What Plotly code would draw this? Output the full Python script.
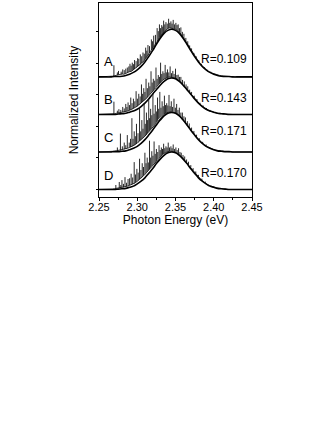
import plotly.graph_objects as go

# photon energy sampling of the measured spectra (eV)
energy = [2.2500, 2.2525, 2.2550, 2.2575, 2.2600, 2.2625, 2.2650, 2.2675, 2.2700, 2.2725,
          2.2750, 2.2775, 2.2800, 2.2825, 2.2850, 2.2875, 2.2900, 2.2925, 2.2950, 2.2975,
          2.3000, 2.3025, 2.3050, 2.3075, 2.3100, 2.3125, 2.3150, 2.3175, 2.3200, 2.3225,
          2.3250, 2.3275, 2.3300, 2.3325, 2.3350, 2.3375, 2.3400, 2.3425, 2.3450, 2.3475,
          2.3500, 2.3525, 2.3550, 2.3575, 2.3600, 2.3625, 2.3650, 2.3675, 2.3700, 2.3725,
          2.3750, 2.3775, 2.3800, 2.3825, 2.3850, 2.3875, 2.3900, 2.3925, 2.3950, 2.3975,
          2.4000, 2.4025, 2.4050, 2.4075, 2.4100, 2.4125, 2.4150, 2.4175, 2.4200, 2.4225,
          2.4250, 2.4275, 2.4300, 2.4325, 2.4350, 2.4375, 2.4400, 2.4425, 2.4450, 2.4475,
          2.4500]

# measured spectra (background trace)
spec_A = [0.00, 0.00, 0.01, 0.00, 0.01, 0.00, 0.01, 0.02, 0.03, 0.04,
          0.06, 0.05, 0.08, 0.07, 0.10, 0.11, 0.14, 0.15, 0.19, 0.22,
          0.26, 0.30, 0.35, 0.40, 0.46, 0.53, 0.60, 0.68, 0.76, 0.84,
          0.92, 1.00, 1.07, 1.14, 1.20, 1.25, 1.29, 1.31, 1.30, 1.30,
          1.27, 1.24, 1.19, 1.13, 1.05, 0.97, 0.89, 0.80, 0.71, 0.63,
          0.55, 0.47, 0.40, 0.34, 0.28, 0.23, 0.19, 0.15, 0.12, 0.10,
          0.08, 0.06, 0.05, 0.04, 0.03, 0.02, 0.02, 0.01, 0.01, 0.01,
          0.00, 0.01, 0.00, 0.00, 0.00, 0.00, 0.00, 0.00, 0.00, 0.00,
          0.00]
spec_B = [0.00, 0.00, 0.01, 0.00, 0.01, 0.00, 0.01, 0.01, 0.02, 0.03,
          0.04, 0.04, 0.06, 0.06, 0.08, 0.09, 0.11, 0.13, 0.16, 0.19,
          0.22, 0.26, 0.30, 0.34, 0.39, 0.44, 0.50, 0.56, 0.62, 0.68,
          0.74, 0.80, 0.85, 0.90, 0.94, 0.97, 0.99, 1.00, 0.99, 0.98,
          0.96, 0.93, 0.89, 0.84, 0.79, 0.73, 0.67, 0.61, 0.54, 0.48,
          0.42, 0.36, 0.31, 0.26, 0.22, 0.18, 0.15, 0.12, 0.09, 0.07,
          0.06, 0.04, 0.03, 0.03, 0.02, 0.01, 0.01, 0.01, 0.00, 0.00,
          0.00, 0.00, 0.00, 0.00, 0.00, 0.00, 0.00, 0.00, 0.00, 0.00,
          0.00]
spec_C = [0.00, 0.00, 0.01, 0.00, 0.01, 0.00, 0.01, 0.01, 0.02, 0.03,
          0.04, 0.04, 0.06, 0.07, 0.08, 0.10, 0.12, 0.14, 0.17, 0.20,
          0.24, 0.28, 0.32, 0.37, 0.42, 0.48, 0.54, 0.60, 0.67, 0.73,
          0.79, 0.85, 0.91, 0.96, 1.00, 1.04, 1.06, 1.07, 1.07, 1.06,
          1.04, 1.01, 0.96, 0.91, 0.85, 0.79, 0.72, 0.65, 0.58, 0.51,
          0.45, 0.39, 0.33, 0.28, 0.23, 0.19, 0.16, 0.13, 0.10, 0.08,
          0.06, 0.05, 0.04, 0.03, 0.02, 0.01, 0.01, 0.01, 0.00, 0.00,
          0.00, 0.00, 0.00, 0.00, 0.00, 0.00, 0.00, 0.00, 0.00, 0.00,
          0.00]
spec_D = [0.00, 0.00, 0.01, 0.00, 0.01, 0.00, 0.01, 0.01, 0.02, 0.03,
          0.04, 0.04, 0.05, 0.06, 0.08, 0.09, 0.11, 0.13, 0.15, 0.18,
          0.22, 0.26, 0.30, 0.35, 0.40, 0.46, 0.52, 0.58, 0.64, 0.70,
          0.76, 0.82, 0.87, 0.92, 0.96, 0.99, 1.01, 1.02, 1.02, 1.01,
          0.99, 0.96, 0.92, 0.87, 0.82, 0.76, 0.69, 0.63, 0.56, 0.50,
          0.44, 0.38, 0.32, 0.27, 0.23, 0.19, 0.15, 0.12, 0.10, 0.08,
          0.06, 0.05, 0.04, 0.03, 0.02, 0.01, 0.01, 0.01, 0.00, 0.00,
          0.00, 0.00, 0.00, 0.00, 0.00, 0.00, 0.00, 0.00, 0.00, 0.00,
          0.00]

# sharp spikes of the measured spectra: energy, foot, top
spike_A_energy = [2.2695, 2.2740, 2.2755, 2.2790, 2.2810, 2.2830, 2.2850, 2.2870, 2.2890, 2.2905,
                  2.2920, 2.2935, 2.2950, 2.2965, 2.2985, 2.3005, 2.3020, 2.3040, 2.3058, 2.3075,
                  2.3092, 2.3110, 2.3125, 2.3140, 2.3160, 2.3185, 2.3200, 2.3215, 2.3238, 2.3260,
                  2.3275, 2.3290, 2.3305, 2.3320, 2.3333, 2.3345, 2.3360, 2.3375, 2.3392, 2.3410,
                  2.3425, 2.3440, 2.3455, 2.3470, 2.3488, 2.3505, 2.3520, 2.3535, 2.3552, 2.3570,
                  2.3590, 2.3610, 2.3635, 2.3660, 2.3685, 2.3710, 2.3740, 2.3770, 2.3805, 2.3840,
                  2.3880, 2.3920, 2.3960]
spike_A_low = [0.02, 0.05, 0.06, 0.06, 0.08, 0.08, 0.10, 0.11, 0.13, 0.14,
               0.15, 0.17, 0.19, 0.21, 0.24, 0.27, 0.29, 0.33, 0.37, 0.40,
               0.44, 0.49, 0.53, 0.57, 0.64, 0.72, 0.76, 0.81, 0.88, 0.96,
               1.00, 1.05, 1.08, 1.12, 1.16, 1.19, 1.22, 1.25, 1.28, 1.30,
               1.31, 1.30, 1.30, 1.30, 1.28, 1.27, 1.25, 1.22, 1.19, 1.14,
               1.08, 1.01, 0.93, 0.85, 0.76, 0.67, 0.58, 0.49, 0.39, 0.30,
               0.22, 0.16, 0.11]
spike_A_high = [0.31, 0.12, 0.16, 0.14, 0.20, 0.18, 0.22, 0.25, 0.28, 0.35,
                0.30, 0.38, 0.34, 0.45, 0.42, 0.50, 0.48, 0.60, 0.55, 0.65,
                0.62, 0.78, 0.70, 0.85, 0.82, 1.00, 0.95, 1.10, 1.12, 1.30,
                1.22, 1.40, 1.30, 1.38, 1.34, 1.50, 1.40, 1.46, 1.42, 1.55,
                1.44, 1.48, 1.42, 1.52, 1.40, 1.44, 1.38, 1.40, 1.30, 1.32,
                1.20, 1.15, 1.04, 0.95, 0.84, 0.76, 0.64, 0.55, 0.44, 0.35,
                0.26, 0.19, 0.14]

spike_B_energy = [2.2695, 2.2740, 2.2760, 2.2785, 2.2810, 2.2830, 2.2850, 2.2865, 2.2880, 2.2898,
                  2.2915, 2.2932, 2.2950, 2.2968, 2.2985, 2.3002, 2.3020, 2.3038, 2.3055, 2.3070,
                  2.3085, 2.3100, 2.3115, 2.3132, 2.3150, 2.3165, 2.3180, 2.3195, 2.3210, 2.3228,
                  2.3245, 2.3260, 2.3275, 2.3290, 2.3305, 2.3320, 2.3335, 2.3350, 2.3365, 2.3380,
                  2.3395, 2.3412, 2.3430, 2.3448, 2.3465, 2.3482, 2.3500, 2.3518, 2.3535, 2.3552,
                  2.3570, 2.3592, 2.3615, 2.3638, 2.3660, 2.3685, 2.3710, 2.3745, 2.3780, 2.3820,
                  2.3860, 2.3905, 2.3950]
spike_B_low = [0.01, 0.03, 0.04, 0.04, 0.06, 0.06, 0.08, 0.09, 0.09, 0.11,
               0.12, 0.14, 0.16, 0.18, 0.20, 0.22, 0.25, 0.28, 0.31, 0.33,
               0.36, 0.39, 0.42, 0.46, 0.50, 0.54, 0.58, 0.61, 0.64, 0.68,
               0.73, 0.76, 0.80, 0.83, 0.86, 0.89, 0.92, 0.94, 0.96, 0.97,
               0.98, 0.99, 1.00, 0.99, 0.98, 0.97, 0.96, 0.94, 0.92, 0.89,
               0.85, 0.80, 0.75, 0.70, 0.65, 0.58, 0.52, 0.44, 0.35, 0.27,
               0.20, 0.14, 0.09]
spike_B_high = [0.34, 0.10, 0.14, 0.12, 0.20, 0.16, 0.28, 0.20, 0.32, 0.25,
                0.45, 0.30, 0.42, 0.35, 0.62, 0.42, 0.55, 0.48, 0.80, 0.55,
                0.70, 0.60, 0.95, 0.70, 0.85, 0.75, 1.15, 0.85, 0.95, 0.90,
                1.25, 0.95, 1.05, 1.00, 1.38, 1.08, 1.15, 1.10, 1.32, 1.12,
                1.20, 1.12, 1.28, 1.10, 1.16, 1.08, 1.22, 1.05, 1.06, 1.00,
                1.00, 0.92, 0.88, 0.80, 0.75, 0.66, 0.60, 0.50, 0.41, 0.31,
                0.24, 0.17, 0.12]

spike_C_energy = [2.2740, 2.2780, 2.2805, 2.2830, 2.2850, 2.2870, 2.2895, 2.2912, 2.2930, 2.2945,
                  2.2960, 2.2975, 2.2990, 2.3010, 2.3030, 2.3045, 2.3060, 2.3075, 2.3090, 2.3105,
                  2.3120, 2.3135, 2.3150, 2.3162, 2.3175, 2.3190, 2.3205, 2.3220, 2.3235, 2.3250,
                  2.3265, 2.3280, 2.3295, 2.3310, 2.3325, 2.3340, 2.3355, 2.3370, 2.3385, 2.3400,
                  2.3415, 2.3430, 2.3445, 2.3462, 2.3480, 2.3498, 2.3515, 2.3532, 2.3550, 2.3570,
                  2.3590, 2.3610, 2.3630, 2.3655, 2.3680, 2.3710, 2.3740, 2.3775, 2.3810, 2.3855,
                  2.3900]
spike_C_low = [0.03, 0.04, 0.06, 0.07, 0.08, 0.10, 0.12, 0.13, 0.14, 0.16,
               0.18, 0.20, 0.22, 0.25, 0.29, 0.31, 0.34, 0.37, 0.40, 0.43,
               0.46, 0.50, 0.54, 0.57, 0.60, 0.64, 0.68, 0.71, 0.75, 0.79,
               0.83, 0.87, 0.90, 0.93, 0.96, 0.99, 1.01, 1.03, 1.05, 1.06,
               1.07, 1.07, 1.07, 1.07, 1.06, 1.04, 1.02, 0.99, 0.96, 0.92,
               0.87, 0.83, 0.78, 0.71, 0.64, 0.56, 0.48, 0.39, 0.31, 0.22,
               0.16]
spike_C_high = [0.12, 0.49, 0.15, 0.25, 0.18, 0.45, 0.25, 0.35, 0.90, 0.35,
                0.55, 0.42, 0.75, 0.50, 1.20, 0.55, 0.85, 0.62, 1.30, 0.75,
                1.05, 0.85, 1.42, 0.90, 1.15, 0.98, 1.55, 1.02, 1.25, 1.08,
                1.45, 1.15, 1.60, 1.18, 1.35, 1.22, 1.50, 1.25, 1.30, 1.24,
                1.52, 1.22, 1.35, 1.20, 1.42, 1.18, 1.28, 1.12, 1.18, 1.05,
                1.05, 0.95, 0.92, 0.82, 0.76, 0.65, 0.56, 0.46, 0.37, 0.27,
                0.20]

spike_D_energy = [2.2720, 2.2765, 2.2785, 2.2800, 2.2820, 2.2840, 2.2860, 2.2880, 2.2900, 2.2920,
                  2.2940, 2.2960, 2.2978, 2.2995, 2.3012, 2.3030, 2.3048, 2.3065, 2.3082, 2.3100,
                  2.3115, 2.3130, 2.3145, 2.3160, 2.3175, 2.3190, 2.3205, 2.3220, 2.3235, 2.3250,
                  2.3268, 2.3285, 2.3300, 2.3315, 2.3330, 2.3345, 2.3360, 2.3375, 2.3390, 2.3405,
                  2.3422, 2.3440, 2.3455, 2.3470, 2.3488, 2.3505, 2.3522, 2.3540, 2.3558, 2.3575,
                  2.3598, 2.3620, 2.3645, 2.3670, 2.3700, 2.3730, 2.3765, 2.3800, 2.3845, 2.3890]
spike_D_low = [0.02, 0.04, 0.04, 0.05, 0.06, 0.07, 0.08, 0.09, 0.11, 0.12,
               0.14, 0.16, 0.18, 0.21, 0.24, 0.27, 0.30, 0.33, 0.37, 0.40,
               0.44, 0.47, 0.51, 0.54, 0.58, 0.62, 0.65, 0.69, 0.72, 0.76,
               0.80, 0.84, 0.87, 0.90, 0.93, 0.95, 0.97, 0.99, 1.00, 1.01,
               1.02, 1.02, 1.02, 1.01, 1.00, 0.99, 0.97, 0.94, 0.91, 0.87,
               0.82, 0.78, 0.72, 0.66, 0.58, 0.51, 0.42, 0.34, 0.25, 0.18]
spike_D_high = [0.12, 0.20, 0.12, 0.25, 0.15, 0.33, 0.18, 0.28, 0.30, 0.42,
                0.32, 0.73, 0.40, 0.55, 0.45, 0.82, 0.52, 0.70, 0.60, 0.98,
                0.70, 0.85, 0.72, 1.30, 0.85, 1.02, 0.90, 1.28, 0.95, 1.08,
                1.00, 1.18, 1.05, 1.12, 1.08, 1.22, 1.10, 1.15, 1.12, 1.25,
                1.12, 1.15, 1.10, 1.20, 1.08, 1.12, 1.05, 1.10, 1.00, 0.98,
                0.92, 0.88, 0.80, 0.74, 0.65, 0.57, 0.48, 0.39, 0.29, 0.21]

# fitted curves, sampled every 0.005 eV
fit_energy = [2.250, 2.255, 2.260, 2.265, 2.270, 2.275, 2.280, 2.285, 2.290, 2.295,
              2.300, 2.305, 2.310, 2.315, 2.320, 2.325, 2.330, 2.335, 2.340, 2.345,
              2.350, 2.355, 2.360, 2.365, 2.370, 2.375, 2.380, 2.385, 2.390, 2.395,
              2.400, 2.405, 2.410, 2.415, 2.420, 2.425, 2.430, 2.435, 2.440, 2.445,
              2.450]
fit_A = [0.00, 0.00, 0.00, 0.00, 0.01, 0.01, 0.02, 0.04, 0.07, 0.12,
         0.19, 0.28, 0.40, 0.54, 0.70, 0.87, 1.03, 1.16, 1.24, 1.27,
         1.24, 1.16, 1.03, 0.87, 0.70, 0.54, 0.40, 0.28, 0.19, 0.12,
         0.07, 0.04, 0.02, 0.01, 0.01, 0.00, 0.00, 0.00, 0.00, 0.00,
         0.00]
fit_B = [0.00, 0.00, 0.00, 0.00, 0.00, 0.01, 0.02, 0.03, 0.06, 0.09,
         0.14, 0.21, 0.30, 0.41, 0.54, 0.66, 0.78, 0.88, 0.95, 0.97,
         0.95, 0.88, 0.78, 0.66, 0.54, 0.41, 0.30, 0.21, 0.14, 0.09,
         0.06, 0.03, 0.02, 0.01, 0.00, 0.00, 0.00, 0.00, 0.00, 0.00,
         0.00]
fit_C = [0.00, 0.00, 0.00, 0.00, 0.01, 0.01, 0.02, 0.03, 0.06, 0.10,
         0.15, 0.23, 0.33, 0.45, 0.58, 0.72, 0.85, 0.96, 1.03, 1.05,
         1.03, 0.96, 0.85, 0.72, 0.58, 0.45, 0.33, 0.23, 0.15, 0.10,
         0.06, 0.03, 0.02, 0.01, 0.01, 0.00, 0.00, 0.00, 0.00, 0.00,
         0.00]
fit_D = [0.00, 0.00, 0.00, 0.00, 0.00, 0.01, 0.02, 0.03, 0.06, 0.09,
         0.15, 0.22, 0.31, 0.43, 0.55, 0.69, 0.81, 0.91, 0.98, 1.00,
         0.98, 0.91, 0.81, 0.69, 0.55, 0.43, 0.31, 0.22, 0.15, 0.09,
         0.06, 0.03, 0.02, 0.01, 0.00, 0.00, 0.00, 0.00, 0.00, 0.00,
         0.00]

labels = ["A", "B", "C", "D"]
r_labels = ["R=0.109", "R=0.143", "R=0.171", "R=0.170"]
offsets = [3, 2, 1, 0]
letter_height = [0.42, 0.40, 0.38, 0.36]
r_height = [0.48, 0.44, 0.56, 0.45]
letter_x = 2.262
r_x = 2.413

x_ticks = [2.25, 2.30, 2.35, 2.40, 2.45]
x_ticktext = ["2.25", "2.30", "2.35", "2.40", "2.45"]
y_ticks = [0, 0.84, 1.68, 2.52, 3.36, 4.2]

spectra = [spec_A, spec_B, spec_C, spec_D]
spikes = [(spike_A_energy, spike_A_low, spike_A_high),
          (spike_B_energy, spike_B_low, spike_B_high),
          (spike_C_energy, spike_C_low, spike_C_high),
          (spike_D_energy, spike_D_low, spike_D_high)]
fits = [fit_A, fit_B, fit_C, fit_D]

FONT = "Liberation Sans, Arial, sans-serif"

fig = go.Figure()
for spec, (se, slo, shi), fit, off in zip(spectra, spikes, fits, offsets):
    fig.add_trace(go.Scatter(x=energy, y=[v + off for v in spec], mode="lines",
                             line=dict(color="#3c3c3c", width=1.0), showlegend=False,
                             hoverinfo="skip"))
    sx, sy = [], []
    for e, lo, hi in zip(se, slo, shi):
        sx += [e, e, None]
        sy += [lo + off, hi + off, None]
    fig.add_trace(go.Scatter(x=sx, y=sy, mode="lines",
                             line=dict(color="#111111", width=0.9), showlegend=False,
                             hoverinfo="skip"))
    fig.add_trace(go.Scatter(x=fit_energy, y=[v + off for v in fit], mode="lines",
                             line=dict(color="black", width=1.6, shape="spline"),
                             showlegend=False, hoverinfo="skip"))

for lab, rl, off, lh, rh in zip(labels, r_labels, offsets, letter_height, r_height):
    fig.add_annotation(x=letter_x, y=off + lh, text=lab, showarrow=False,
                       font=dict(family=FONT, size=13, color="black"))
    fig.add_annotation(x=r_x, y=off + rh, text=rl, showarrow=False,
                       font=dict(family=FONT, size=12, color="black"))

fig.update_layout(
    width=332, height=430,
    margin=dict(l=99, r=80, t=3, b=233),
    paper_bgcolor="white", plot_bgcolor="white",
    font=dict(family=FONT, color="black"),
    showlegend=False,
    xaxis=dict(range=[2.25, 2.45], tickvals=x_ticks, ticktext=x_ticktext,
               ticks="outside", ticklen=3, tickwidth=1, tickcolor="black",
               ticklabelstandoff=-3,
               minor=dict(ticks="outside", dtick=0.025, tick0=2.25, ticklen=2,
                          tickcolor="black", showgrid=False),
               showline=True, linecolor="black", linewidth=1, mirror=True,
               showgrid=False, zeroline=False,
               tickfont=dict(family=FONT, size=11, color="black"),
               title=dict(text="Photon Energy (eV)", standoff=0,
                          font=dict(family=FONT, size=12, color="black"))),
    yaxis=dict(range=[-0.2, 4.97], tickvals=y_ticks, showticklabels=False,
               ticks="outside", ticklen=2, tickwidth=1, tickcolor="black",
               showline=True, linecolor="black", linewidth=1, mirror=True,
               showgrid=False, zeroline=False,
               title=dict(text="Normalized Intensity", standoff=14,
                          font=dict(family=FONT, size=12, color="black"))),
)

fig.write_html("out.html", config={"displayModeBar": False},
               post_script="document.body.style.margin='0px';")
